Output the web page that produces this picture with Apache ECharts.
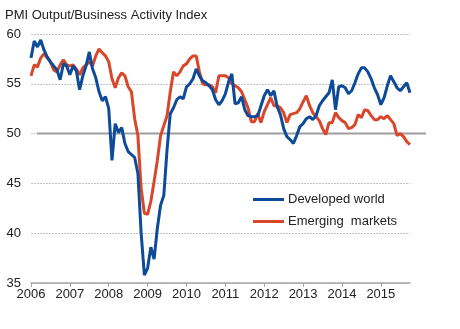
<!DOCTYPE html>
<html><head><meta charset="utf-8">
<script src="https://cdn.jsdelivr.net/npm/echarts@6/dist/echarts.min.js"></script>
<style>html,body{margin:0;padding:0;background:#fff}#c{width:460px;height:329px}</style>
</head><body><div id="c"></div>
<script>
const titleText = 'PMI Output/Business Activity Index';
const seriesNames = ['Developed world', 'Emerging  markets'];
const startYear = 2006;
const monthCount = 118; // Jan 2006 .. Oct 2015
const yTicks = { min: 35, max: 60, interval: 5 };
const referenceLevel = 50;

const developed = [
57.6, 59.3, 58.7, 59.4, 58.4, 57.7, 57.2, 56.8, 56.4, 55.4, 57.0, 56.8,
55.9, 56.8, 56.3, 54.4, 55.8, 56.8, 58.2, 56.5, 55.6, 54.2, 53.3, 53.7,
52.5, 47.3, 51.0, 50.1, 50.6, 49.0, 48.2, 47.9, 47.6, 46.0, 40.0, 35.8,
36.5, 38.6, 37.4, 40.5, 42.8, 43.8, 48.4, 52.0, 52.6, 53.4, 53.7, 53.5,
54.7, 55.0, 55.5, 56.5, 55.8, 55.3, 55.1, 54.8, 54.4, 53.4, 52.9, 53.3,
54.0, 55.2, 56.0, 53.0, 53.1, 53.7, 52.4, 51.8, 51.7, 51.7, 51.8, 52.8,
53.8, 54.4, 53.8, 54.3, 52.7, 51.9, 50.5, 49.7, 49.4, 49.0, 49.8, 50.7,
51.0, 51.5, 51.7, 51.4, 51.8, 52.8, 53.3, 53.7, 54.1, 55.4, 52.4, 54.7,
54.8, 54.6, 54.0, 54.3, 55.1, 56.0, 56.6, 56.6, 56.2, 55.5, 54.6, 53.9,
52.9, 53.6, 54.8, 55.8, 55.2, 54.6, 54.3, 54.7, 55.1, 54.1
];
const emerging = [
55.8, 56.9, 56.7, 57.6, 58.0, 57.6, 57.2, 56.4, 56.2, 56.9, 57.4, 56.9,
56.8, 56.9, 56.5, 55.9, 56.6, 56.9, 57.2, 56.8, 57.8, 58.5, 58.1, 57.8,
57.2, 55.5, 54.6, 55.6, 56.1, 55.8, 54.7, 54.2, 51.5, 49.8, 44.5, 42.0,
41.9, 43.2, 45.2, 47.3, 49.8, 50.8, 51.8, 54.2, 56.2, 55.8, 56.2, 56.8,
57.0, 57.5, 57.8, 57.8, 56.2, 55.0, 54.9, 54.9, 54.7, 54.1, 55.8, 55.8,
55.8, 55.6, 55.0, 54.8, 54.6, 54.2, 53.4, 52.6, 51.2, 51.2, 52.0, 51.1,
52.2, 52.9, 53.6, 52.8, 52.8, 52.6, 52.1, 51.1, 51.9, 52.0, 52.1, 52.5,
53.2, 53.8, 52.8, 52.1, 51.7, 51.3, 50.5, 49.9, 51.1, 51.1, 52.1, 51.6,
51.3, 51.1, 50.5, 50.6, 50.9, 51.9, 51.6, 52.4, 52.3, 51.8, 51.4, 51.4,
51.7, 51.5, 51.8, 51.4, 51.0, 49.8, 50.0, 49.7, 49.2, 48.9
];

const months = [];
for (let k = 0; k < monthCount; k++) {
  const y = startYear + Math.floor(k / 12);
  const m = (k % 12) + 1;
  months.push(y + '-' + (m < 10 ? '0' + m : m));
}

const FONT = '"Liberation Sans", Arial, sans-serif';
const chart = echarts.init(document.getElementById('c'), null, { renderer: 'canvas' });
const isJan = (idx) => idx % 12 === 0;

chart.setOption({
  animation: false,
  backgroundColor: '#ffffff',
  textStyle: { fontFamily: FONT },
  title: {
    text: titleText, left: 0, top: 4,
    textStyle: { fontFamily: FONT, fontSize: 13, fontWeight: 'normal', color: '#222' }
  },
  legend: {
    data: seriesNames,
    orient: 'vertical', left: 248, top: 188,
    icon: 'rect', itemWidth: 31, itemHeight: 3, itemGap: 9,
    textStyle: { fontFamily: FONT, fontSize: 13, color: '#222', padding: [0, 0, 0, -1] }
  },
  grid: [
    { left: 31, right: 50, top: 34, bottom: 46 },
    { left: 37, right: 34, top: 34, bottom: 46 }
  ],
  xAxis: [{
    type: 'category', data: months, boundaryGap: false, gridIndex: 0,
    axisLine: { lineStyle: { color: '#a6a6a6', width: 1.5 } },
    axisTick: { interval: (i) => isJan(i), length: 4, lineStyle: { color: '#a6a6a6' } },
    axisLabel: {
      interval: (i) => isJan(i), margin: 5,
      formatter: (v) => v.slice(0, 4),
      fontFamily: FONT, fontSize: 13, color: '#222'
    },
    splitLine: { show: false }
  }, {
    type: 'value', gridIndex: 1, min: 0, max: 1, show: false
  }],
  yAxis: [{
    type: 'value', gridIndex: 0, min: yTicks.min, max: yTicks.max, interval: yTicks.interval,
    axisLine: { show: false }, axisTick: { show: false },
    axisLabel: { margin: 10, fontFamily: FONT, fontSize: 13, color: '#222' },
    splitLine: { lineStyle: { color: '#c4c4c4', type: [2, 1], width: 1 } }
  }, {
    type: 'value', gridIndex: 1, min: yTicks.min, max: yTicks.max, show: false
  }],
  series: [
    {
      name: 'ref50', type: 'line', xAxisIndex: 1, yAxisIndex: 1, z: 1,
      data: [[0, referenceLevel], [1, referenceLevel]],
      symbol: 'none', silent: true,
      lineStyle: { color: '#9e9e9e', width: 2 }
    },
    {
      name: seriesNames[0], type: 'line', data: developed, symbol: 'none', z: 3,
      lineStyle: { color: '#0d4b98', width: 3 }, itemStyle: { color: '#0d4b98' }
    },
    {
      name: seriesNames[1], type: 'line', data: emerging, symbol: 'none', z: 2,
      lineStyle: { color: '#d9472b', width: 3 }, itemStyle: { color: '#d9472b' }
    }
  ]
});
</script></body></html>
